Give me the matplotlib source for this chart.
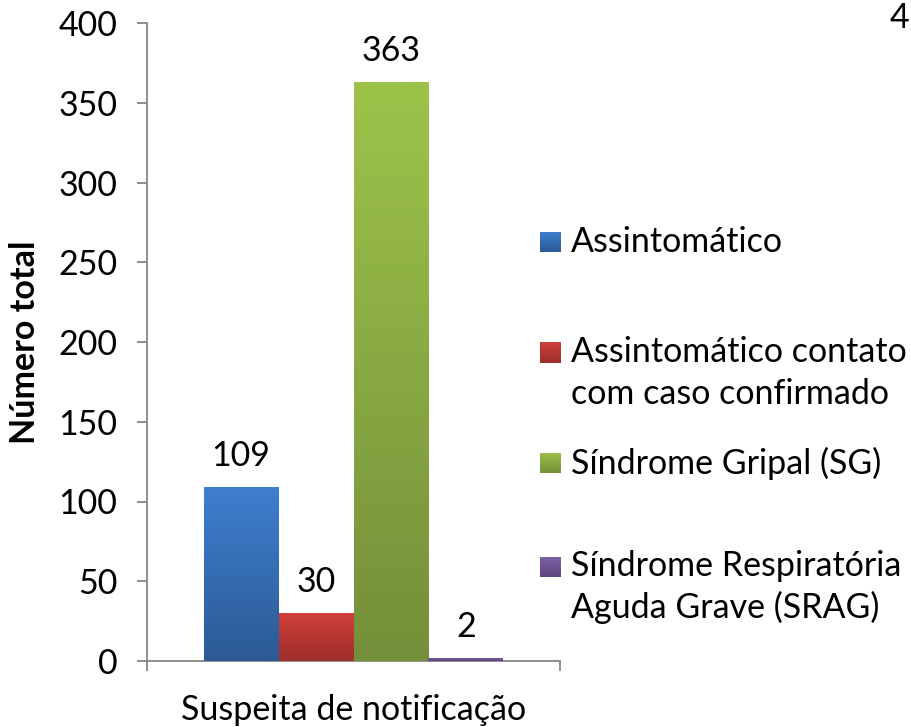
import matplotlib
matplotlib.use("Agg")
import matplotlib.pyplot as plt
import numpy as np
from matplotlib.colors import LinearSegmentedColormap

plt.rcParams['font.family'] = ['Lato', 'DejaVu Sans']

category = "Suspeita de notificação"
series = ["Assintomático", "Assintomático contato\ncom caso confirmado",
          "Síndrome Gripal (SG)", "Síndrome Respiratória\nAguda Grave (SRAG)"]
values = [109, 30, 363, 2]
top_colors = ["#3E7FCF", "#D13F3B", "#9DC34A", "#8062A8"]
bot_colors = ["#2C5A94", "#9E2F2B", "#748F3A", "#5E467E"]
yticks = [0, 50, 100, 150, 200, 250, 300, 350, 400]

W, H = 911, 727
fig = plt.figure(figsize=(W/100, H/100), dpi=100)
ax = fig.add_axes([147/W, (H-661)/H, (560-147)/W, (661-23)/H])

n = len(values)
bw = 0.726 / n
xs = [(i - (n-1)/2) * bw for i in range(n)]
FS = 24.5

for x, v, tc, bc in zip(xs, values, top_colors, bot_colors):
    bar = ax.bar(x, v, width=bw, color=bc, zorder=2, linewidth=0)[0]
    cmap = LinearSegmentedColormap.from_list("g", [bc, tc])
    grad = np.linspace(0, 1, 256).reshape(-1, 1)
    im = ax.imshow(grad, extent=[x - bw/2, x + bw/2, 0, v], origin='lower',
                   aspect='auto', cmap=cmap, zorder=3)
    im.set_clip_path(bar)
    ax.annotate(f"{v}", (x, v), xytext=(0, 11), textcoords='offset points',
                ha='center', va='bottom', fontsize=FS, color='black')

ax.set_xlim(-0.5, 0.5)
ax.set_ylim(0, 400)
ax.set_yticks(yticks)
ax.set_xticks([-0.5, 0.5])
ax.set_xticklabels([])
for s in ['top', 'right']:
    ax.spines[s].set_visible(False)
for s in ['left', 'bottom']:
    ax.spines[s].set_color('#868686')
    ax.spines[s].set_linewidth(1.3)
ax.tick_params(axis='y', length=7.5, width=1.3, color='#868686', labelsize=FS, pad=14)
ax.tick_params(axis='x', length=7.5, width=1.3, color='#868686')
ax.text(0, -0.051, category, transform=ax.get_xaxis_transform(), ha='center',
        va='top', fontsize=FS)
ax.set_ylabel("Número total", fontsize=FS, fontweight='bold', labelpad=12)

# legend
leg_y = [242, 373, 463, 587]
for lab, tc, bc, y in zip(series, top_colors, bot_colors, leg_y):
    sq = 21
    yy = y if "\n" not in lab else y - 20
    ax_l = fig.add_axes([540/W, (H - yy - sq/2)/H, sq/W, sq/H])
    ax_l.imshow(np.linspace(1, 0, 64).reshape(-1, 1), aspect='auto',
                cmap=LinearSegmentedColormap.from_list("g", [bc, tc]))
    ax_l.axis('off')
    fig.text(571/W, (H - y)/H, lab, ha='left', va='center', fontsize=FS,
             linespacing=1.35)

fig.text(909/W, (H - 18)/H, "4", fontsize=FS, ha='right', va='center')

fig.savefig("out.png", dpi=100)
